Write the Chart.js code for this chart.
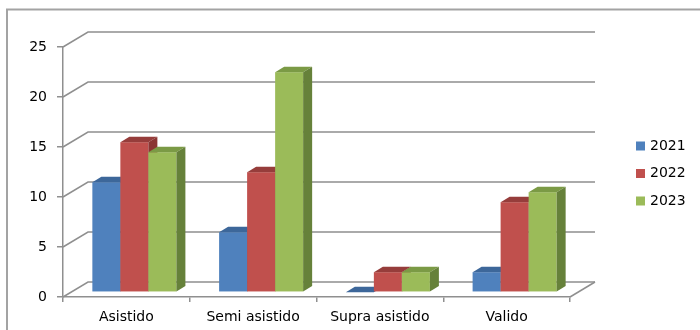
<!DOCTYPE html>
<html lang="es">
<head>
<meta charset="utf-8">
<title>Registros por tipo</title>
<script src="https://cdn.jsdelivr.net/npm/chart.js@4.4.1/dist/chart.umd.min.js"></script>
<style>
  html, body { margin: 0; padding: 0; background: #fff; }
  #wrap { position: relative; width: 700px; height: 330px; }
</style>
</head>
<body>
<div id="wrap"><canvas id="grafico"></canvas></div>
<script>
// ---- datos ----
const categories = ['Asistido', 'Semi asistido', 'Supra asistido', 'Valido'];
const seriesNames = ['2021', '2022', '2023'];
const values2021 = [11, 6, 0, 2];
const values2022 = [15, 12, 2, 9];
const values2023 = [14, 22, 2, 10];
const yMax = 25;
const yStep = 5;

// ---- estilo ----
const FONT = '"DejaVu Sans", sans-serif';
const GRID = '#8f8f8f';
const DEPTH = { x: 25, y: -15 };   // profundidad total del suelo
const BAR_OFFSET = 0.32;           // donde empieza la cara frontal de la barra
const BAR_DEPTH = 0.36;            // grosor de la barra en profundidad

const frontColors = ['#4F81BD', '#C0504D', '#9BBB59'];
const topColors = ['#3D679A', '#963D3B', '#7B9A45'];
const sideColors = ['#385D8A', '#8B3533', '#66813A'];

const seriesValues = [values2021, values2022, values2023];

// pinta una barra con su cara superior y lateral
const drawBox = (ctx, left, right, top, bottom, dx, dy, i) => {
    ctx.fillStyle = frontColors[i];
    ctx.fillRect(left, top, right - left, bottom - top);

    ctx.fillStyle = topColors[i];
    ctx.beginPath();
    ctx.moveTo(left, top);
    ctx.lineTo(right, top);
    ctx.lineTo(right + dx, top + dy);
    ctx.lineTo(left + dx, top + dy);
    ctx.closePath();
    ctx.fill();

    ctx.fillStyle = sideColors[i];
    ctx.beginPath();
    ctx.moveTo(right, top);
    ctx.lineTo(right + dx, top + dy);
    ctx.lineTo(right + dx, bottom + dy);
    ctx.lineTo(right, bottom);
    ctx.closePath();
    ctx.fill();
};

const plano3d = {
    id: 'plano3d',
    beforeDraw(chart) {
        // marco gris del grafico
        const { ctx } = chart;
        ctx.save();
        ctx.strokeStyle = '#a3a3a3';
        ctx.lineWidth = 2;
        ctx.beginPath();
        ctx.moveTo(7, 330);
        ctx.lineTo(7, 9.5);
        ctx.lineTo(700, 9.5);
        ctx.stroke();
        ctx.restore();
    },
    beforeDatasetsDraw(chart) {
        const { ctx, chartArea: a, scales: { y } } = chart;
        ctx.save();
        ctx.strokeStyle = GRID;
        ctx.lineWidth = 1.5;

        // pared del fondo y pared izquierda
        y.ticks.forEach(t => {
            const py = y.getPixelForValue(t.value);
            ctx.beginPath();
            ctx.moveTo(a.left, py);
            ctx.lineTo(a.left + DEPTH.x, py + DEPTH.y);
            ctx.lineTo(a.right + DEPTH.x, py + DEPTH.y);
            ctx.stroke();
        });
        // borde derecho del suelo
        ctx.beginPath();
        ctx.moveTo(a.right, a.bottom);
        ctx.lineTo(a.right + DEPTH.x, a.bottom + DEPTH.y);
        ctx.stroke();

        // barras en 3D, de izquierda a derecha
        const sx = DEPTH.x * BAR_OFFSET, sy = DEPTH.y * BAR_OFFSET;
        const bx = DEPTH.x * BAR_DEPTH, by = DEPTH.y * BAR_DEPTH;
        chart.data.datasets.forEach((ds, i) => {
            chart.getDatasetMeta(i).data.forEach(bar => {
                const p = bar.getProps(['x', 'y', 'base', 'width'], true);
                drawBox(ctx, p.x - p.width / 2 + sx, p.x + p.width / 2 + sx,
                    p.y + sy, p.base + sy, bx, by, i);
            });
        });
        ctx.restore();
        return false;
    },
    afterDraw(chart) {
        // leyenda a la derecha
        const { ctx } = chart;
        ctx.save();
        ctx.font = '14px ' + FONT;
        ctx.textBaseline = 'middle';
        chart.data.datasets.forEach((ds, i) => {
            const cy = 146 + i * 27.5;
            ctx.fillStyle = frontColors[i];
            ctx.fillRect(636, cy - 4.5, 9, 9);
            ctx.fillStyle = '#000';
            ctx.fillText(ds.label, 650, cy);
        });
        ctx.restore();
    }
};

const ctx = document.getElementById('grafico').getContext('2d');
new Chart(ctx, {
    type: 'bar',
    data: {
        labels: categories,
        datasets: seriesNames.map((name, i) => ({
            label: name,
            data: seriesValues[i],
            backgroundColor: frontColors[i],
            barPercentage: 1,
            categoryPercentage: 0.663
        }))
    },
    options: {
        responsive: true,
        maintainAspectRatio: false,
        animation: false,
        layout: { padding: { left: 20, right: 130, top: 47, bottom: 3 } },
        plugins: {
            legend: { display: false },
            tooltip: { enabled: false }
        },
        scales: {
            x: {
                grid: { drawOnChartArea: false, tickLength: 5, color: GRID, lineWidth: 1.5 },
                border: { color: GRID, width: 1.5 },
                ticks: { font: { family: FONT, size: 14 }, color: '#000', padding: 7, maxRotation: 0 },
                afterFit: (scale) => { scale.height = 30; }
            },
            y: {
                min: 0,
                max: yMax,
                grid: { drawOnChartArea: false, tickLength: 6, color: GRID, lineWidth: 1.5 },
                border: { color: GRID, width: 1.5 },
                ticks: { stepSize: yStep, font: { family: FONT, size: 14 }, color: '#000', padding: 10 },
                afterFit: (scale) => { scale.width = 43; }
            }
        }
    },
    plugins: [plano3d]
});
</script>
</body>
</html>
